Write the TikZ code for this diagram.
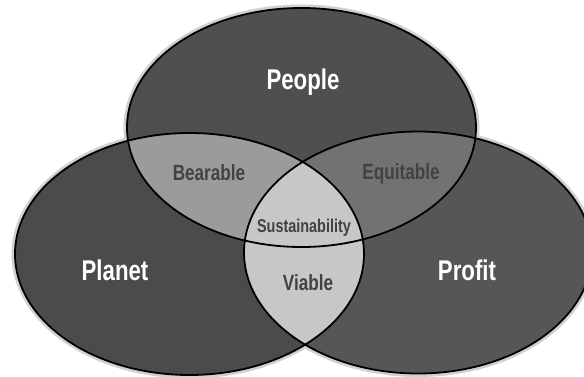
\documentclass[tikz,border=0pt]{standalone}
\usepackage{fontspec}
\setmainfont{Liberation Sans}[FakeStretch=0.78]
\definecolor{PeopleGrey}{RGB}{79,79,79}
\definecolor{PlanetGrey}{RGB}{75,75,75}
\definecolor{ProfitGrey}{RGB}{86,86,86}
\definecolor{BearGrey}{RGB}{155,155,155}
\definecolor{EquiGrey}{RGB}{114,114,114}
\definecolor{CoreGrey}{RGB}{199,199,199}
\definecolor{InkGrey}{RGB}{66,66,66}
\tikzset{
  rim/.style={draw=black,line width=1.8pt},
  halo/.style={draw=black!18,line width=7pt},
  bigLabel/.style={font=\bfseries\fontsize{28.5}{28.5}\selectfont,text=white},
  smallLabel/.style={font=\bfseries\fontsize{22}{22}\selectfont,text=InkGrey}
}
% the three sets
\def\peoplepath{(301.5,127.5) ellipse [x radius=174.5pt, y radius=119.5pt]}
\def\planetpath{(189.5,254) ellipse [x radius=174.5pt, y radius=121pt]}
\def\profitpath{(418,252.5) ellipse [x radius=174pt, y radius=121pt]}

\begin{document}
\begin{tikzpicture}[x=1pt,y=-1pt]
  \useasboundingbox (0,0) rectangle (584,377);
  \fill[white] (0,0) rectangle (584,377);
  % soft outline behind everything
  \draw[halo] \peoplepath;
  \draw[halo] \planetpath;
  \draw[halo] \profitpath;
  \fill[PlanetGrey] \planetpath;
  \fill[ProfitGrey] \profitpath;
  \fill[PeopleGrey] \peoplepath;
  % overlaps
  \begin{scope}
    \clip \peoplepath;
    \fill[BearGrey] \planetpath;
    \fill[EquiGrey] \profitpath;
  \end{scope}
  \begin{scope}
    \clip \planetpath;
    \clip \profitpath;
    \fill[CoreGrey] (0,0) rectangle (584,377);
  \end{scope}
  \draw[rim] \planetpath;
  \draw[rim] \profitpath;
  \draw[rim] \peoplepath;
  % labels
  \node[bigLabel] (people) at (303,82) {People};
  \node[bigLabel] (planet) at (115,270) {Planet};
  \node[bigLabel] (profit) at (467,270) {Profit};
  \node[smallLabel] (bearable) at (209,173) {Bearable};
  \node[smallLabel] (equitable) at (401,174) {Equitable};
  \node[smallLabel,font=\bfseries\fontsize{18.5}{18.5}\selectfont] (core) at (304,228) {Sustainability};
  \node[smallLabel] (viable) at (308,283) {Viable};
\end{tikzpicture}
\end{document}
